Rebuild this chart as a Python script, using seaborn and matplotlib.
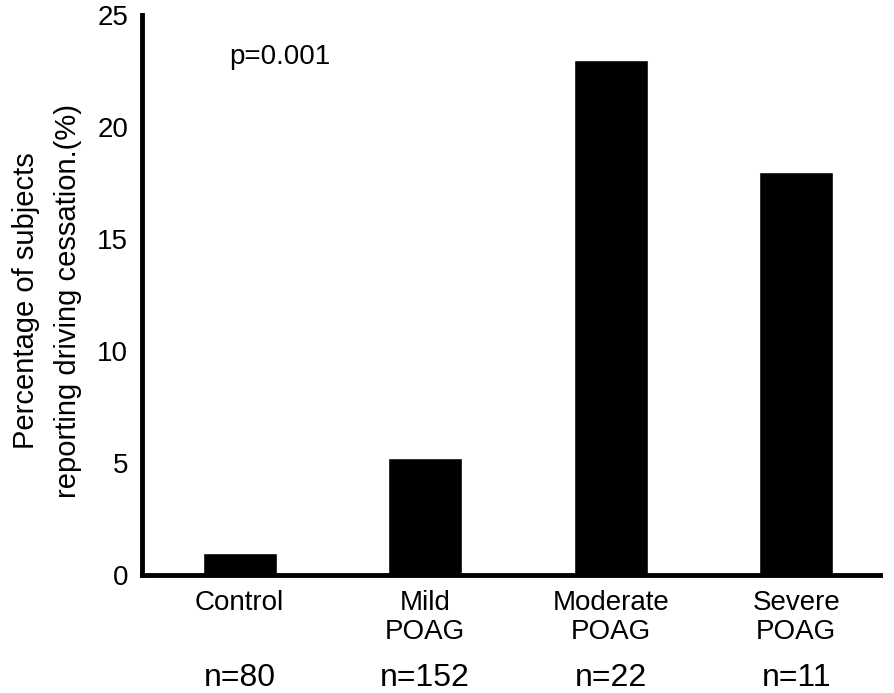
import matplotlib
matplotlib.use('Agg')
import matplotlib.pyplot as plt
import seaborn as sns
import pandas as pd

sns.set_style('white')
plt.rcParams['font.family'] = ['Liberation Sans', 'DejaVu Sans']
plt.rcParams['text.color'] = 'black'
plt.rcParams['axes.labelcolor'] = 'black'
plt.rcParams['xtick.color'] = 'black'
plt.rcParams['ytick.color'] = 'black'

# data
groups = ['Control', 'Mild\nPOAG', 'Moderate\nPOAG', 'Severe\nPOAG']
pct = [1.0, 5.25, 23.0, 18.0]
n_labels = ['n=80', 'n=152', 'n=22', 'n=11']

df = pd.DataFrame({'group': groups, 'pct': pct})

fig = plt.figure(figsize=(8.94, 6.93), dpi=100)
ax = fig.add_axes([0.159, 0.170, 0.825, 0.808])

sns.barplot(data=df, x='group', y='pct', color='black', width=0.4,
            saturation=1, ax=ax)

ax.set_xlim(-0.526, 3.45)
ax.set_ylim(0, 25)
ax.set_yticks([0, 5, 10, 15, 20, 25])
ax.tick_params(axis='both', length=0, labelsize=20)
ax.tick_params(axis='x', pad=11)
ax.tick_params(axis='y', pad=10)
for lab in ax.get_xticklabels():
    lab.set_linespacing(1.15)
ax.set_xlabel('')
ax.set_ylabel('Percentage of subjects\nreporting driving cessation.(%)',
              fontsize=21, linespacing=1.6)
ax.yaxis.set_label_coords(-0.082, 0.49)

sns.despine(ax=ax)
ax.spines['left'].set_linewidth(3.5)
ax.spines['bottom'].set_linewidth(3.5)
ax.spines['left'].set_color('black')
ax.spines['bottom'].set_color('black')

# sample sizes under the category labels
for i, lab in enumerate(n_labels):
    ax.text(i, -0.183, lab, transform=ax.get_xaxis_transform(),
            ha='center', va='center', fontsize=23)

ax.text(0.118, 0.913, 'p=0.001', transform=ax.transAxes,
        ha='left', va='baseline', fontsize=20)

fig.savefig('out.png', dpi=100)
